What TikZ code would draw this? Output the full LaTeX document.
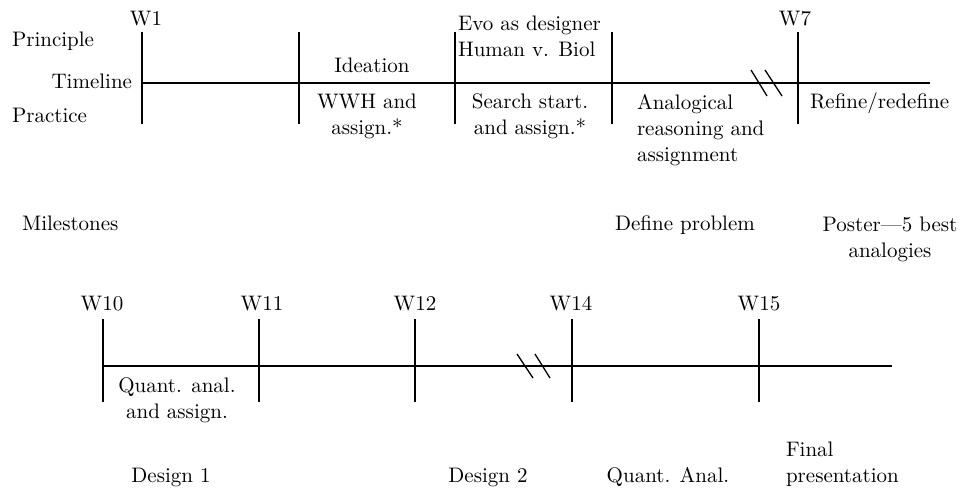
\documentclass[tikz,border=0pt]{standalone}
\begin{document}
\begin{tikzpicture}[x=0.5pt,y=-0.5pt,
  rule/.style={line width=0.65pt,black},
  lbl/.style={inner sep=0pt,outer sep=0pt,font=\fontsize{10.5}{13}\selectfont,anchor=base},
  lblL/.style={lbl,anchor=base west,align=left},
  lblC/.style={lbl,anchor=base,align=center}]
\useasboundingbox (0,0) rectangle (961,491);

% ---------- upper timeline (weeks 1-7) ----------
\coordinate (uS) at (142,83);
\coordinate (uE) at (930,83);
\draw[rule] (uS) -- (uE);
\foreach \n/\x in {a/142,b/299,c/455,d/612,e/798}{
  \coordinate (u\n top) at (\x,32);
  \coordinate (u\n bot) at (\x,124);
  \draw[rule] (u\n top) -- (u\n bot);
}
% break marks
\coordinate (ub1a) at (751,70); \coordinate (ub1b) at (767,96);
\coordinate (ub2a) at (765,70); \coordinate (ub2b) at (782,96);
\draw[rule] (ub1a) -- (ub1b);
\draw[rule] (ub2a) -- (ub2b);

% multi-line labels are placed by the baseline of their last line
\node[lblC] (w1) at (146,26) {W1};
\node[lblC] (w7) at (795,26) {W7};
\node[lblL] (principle) at (12,47) {Principle};
\node[lbl,anchor=base east] (timeline) at (132,89) {Timeline};
\node[lblL] (practice) at (12,123) {Practice};
\node[lblC] (ideation) at (372,73) {Ideation};
\node[lblC] (wwh) at (367,135) {WWH and\\assign.*};
\node[lblL] (evo) at (458,57) {Evo as designer\\Human v. Biol};
\node[lblC] (search) at (530,135) {Search start.\\and assign.*};
\node[lblL] (analog) at (637,162) {Analogical\\reasoning and\\assignment};
\node[lblL] (refine) at (810,109) {Refine/redefine};

% ---------- milestones ----------
\node[lblL] (miles) at (22,231) {Milestones};
\node[lblC] (define) at (685,231) {Define problem};
\node[lblC] (poster) at (890,257) {Poster---5 best\\analogies};

% ---------- lower timeline (weeks 10-15) ----------
\coordinate (lS) at (103,366);
\coordinate (lE) at (892,366);
\draw[rule] (lS) -- (lE);
\foreach \n/\x in {a/103,b/259,c/415,d/572,e/759}{
  \coordinate (l\n top) at (\x,319);
  \coordinate (l\n bot) at (\x,402);
  \draw[rule] (l\n top) -- (l\n bot);
}
\coordinate (lb1a) at (517,354); \coordinate (lb1b) at (533,378);
\coordinate (lb2a) at (535,354); \coordinate (lb2b) at (550,378);
\draw[rule] (lb1a) -- (lb1b);
\draw[rule] (lb2a) -- (lb2b);

\node[lblC] (w10) at (102,310) {W10};
\node[lblC] (w11) at (262,310) {W11};
\node[lblC] (w12) at (415,310) {W12};
\node[lblC] (w14) at (571,310) {W14};
\node[lblC] (w15) at (759,310) {W15};
\node[lblC] (quant1) at (177,418) {Quant. anal.\\and assign.};
\node[lblC] (design1) at (171,482) {Design 1};
\node[lblC] (design2) at (488,482) {Design 2};
\node[lblC] (quant2) at (668,482) {Quant. Anal.};
\node[lblL] (final) at (786,482) {Final\\presentation};
\end{tikzpicture}
\end{document}
